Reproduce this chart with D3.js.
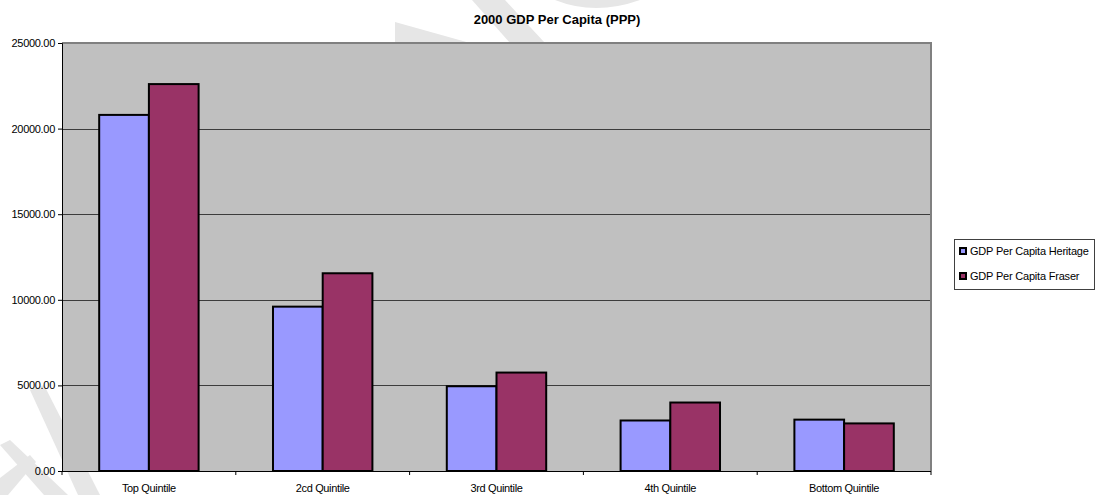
<!DOCTYPE html>
<html>
<head>
<meta charset="utf-8">
<script src="https://cdn.jsdelivr.net/npm/d3@7/dist/d3.min.js"></script>
<style>
  html, body { margin: 0; padding: 0; background: #ffffff; }
  svg { display: block; font-family: "Liberation Sans", Arial, sans-serif; }
</style>
</head>
<body>
<svg id="chart" width="1096" height="495"></svg>
<script>
// Quintile groups on the x axis
const categories = ["Top Quintile", "2cd Quintile", "3rd Quintile", "4th Quintile", "Bottom Quintile"];
// Series names and their values (GDP per capita, PPP, year 2000)
const seriesNames = ["GDP Per Capita Heritage", "GDP Per Capita Fraser"];
const heritageValues = [20800, 9600, 4950, 2950, 3000];
const fraserValues = [22600, 11550, 5750, 4000, 2780];
// Value axis ticks
const yTicks = [0, 5000, 10000, 15000, 20000, 25000];
const title = "2000 GDP Per Capita (PPP)";

const seriesValues = [heritageValues, fraserValues];
const seriesColors = ["#9999ff", "#993366"];

const svg = d3.select("#chart");
const plot = { left: 62, right: 931, top: 43, bottom: 471 };

// faint background marks in the margins
const haze = svg.append("g").attr("fill", "#e6e6e6");
haze.append("path").attr("d", "M472,0 L505,0 L545,43 L510,43 Z");
haze.append("path").attr("d", "M395,22 L470,43 L395,43 Z");
haze.append("path").attr("d", "M555,0 Q595,16 640,0 Z");
haze.append("path").attr("d", "M30,390 L44,385 L100,495 L78,495 Z");
haze.append("path").attr("d", "M0,445 L10,440 L68,495 L44,495 Z");
haze.append("path").attr("d", "M0,478 L30,455 L36,462 L8,495 L0,495 Z");

const x = d3.scaleBand()
  .domain(categories)
  .range([plot.left, plot.right])
  .paddingInner(0.428)
  .paddingOuter(0.214);

const xs = d3.scaleBand()
  .domain(d3.range(seriesNames.length))
  .range([0, x.bandwidth()]);

const y = d3.scaleLinear()
  .domain([0, 25000])
  .range([plot.bottom, plot.top]);

// plot background
svg.append("rect")
  .attr("x", plot.left).attr("y", plot.top)
  .attr("width", plot.right - plot.left).attr("height", plot.bottom - plot.top)
  .attr("fill", "#c0c0c0");

// gridlines
svg.append("g")
  .selectAll("line")
  .data(yTicks.filter(d => d > 0 && d < 25000))
  .join("line")
  .attr("x1", plot.left).attr("x2", plot.right)
  .attr("y1", d => Math.round(y(d)) + 0.5).attr("y2", d => Math.round(y(d)) + 0.5)
  .attr("stroke", "#3c3c3c").attr("stroke-width", 1);

// top and right frame
svg.append("path")
  .attr("d", `M${plot.left},${plot.top} H${plot.right} V${plot.bottom}`)
  .attr("fill", "none").attr("stroke", "#808080").attr("stroke-width", 2);

// bars
const groups = svg.append("g")
  .selectAll("g")
  .data(categories)
  .join("g")
  .attr("transform", d => `translate(${x(d)},0)`);

groups.selectAll("rect")
  .data((d, i) => seriesValues.map((vals, s) => ({ s, v: vals[i] })))
  .join("rect")
  .attr("x", d => xs(d.s))
  .attr("y", d => y(d.v))
  .attr("width", xs.bandwidth())
  .attr("height", d => y(0) - y(d.v))
  .attr("fill", d => seriesColors[d.s])
  .attr("stroke", "#000")
  .attr("stroke-width", 2);

// y axis
const yAxis = d3.axisLeft(y)
  .tickValues(yTicks)
  .tickFormat(d3.format(".2f"))
  .tickSize(4)
  .tickPadding(3);
const gy = svg.append("g")
  .attr("transform", `translate(${plot.left},0)`)
  .call(yAxis);
gy.select(".domain").attr("stroke", "#000");
gy.selectAll(".tick line").attr("stroke", "#000");
gy.selectAll("text")
  .attr("font-size", 11)
  .attr("letter-spacing", "-0.3")
  .attr("fill", "#000")
  .attr("font-family", "'Liberation Sans', Arial, sans-serif");

// x axis: ticks at category boundaries
const boundaries = d3.range(categories.length + 1).map(i => plot.left + i * x.step());
const gx = svg.append("g");
gx.append("line")
  .attr("x1", plot.left).attr("x2", plot.right)
  .attr("y1", plot.bottom + 0.5).attr("y2", plot.bottom + 0.5)
  .attr("stroke", "#000");
gx.selectAll("line.tk")
  .data(boundaries)
  .join("line")
  .attr("class", "tk")
  .attr("x1", d => d).attr("x2", d => d)
  .attr("y1", plot.bottom).attr("y2", plot.bottom + 4)
  .attr("stroke", "#000");
gx.selectAll("text")
  .data(categories)
  .join("text")
  .attr("x", d => x(d) + x.bandwidth() / 2)
  .attr("y", 492)
  .attr("text-anchor", "middle")
  .attr("font-size", 11)
  .attr("letter-spacing", "-0.35")
  .attr("fill", "#000")
  .text(d => d);

// title
svg.append("text")
  .attr("x", 557).attr("y", 24)
  .attr("text-anchor", "middle")
  .attr("font-size", 13)
  .attr("font-weight", "bold")
  .attr("fill", "#000")
  .text(title);

// legend
const legend = svg.append("g");
legend.append("rect")
  .attr("x", 954.5).attr("y", 239.5)
  .attr("width", 140).attr("height", 50)
  .attr("fill", "#fff").attr("stroke", "#404040").attr("stroke-width", 1);
const items = legend.selectAll("g.item")
  .data(seriesNames)
  .join("g")
  .attr("class", "item")
  .attr("transform", (d, i) => `translate(0,${251 + i * 25})`);
items.append("rect")
  .attr("x", 960).attr("y", -3)
  .attr("width", 6).attr("height", 6)
  .attr("fill", (d, i) => seriesColors[i])
  .attr("stroke", "#000").attr("stroke-width", 2);
items.append("text")
  .attr("x", 970).attr("y", 4)
  .attr("font-size", 11)
  .attr("letter-spacing", "-0.2")
  .attr("fill", "#000")
  .text(d => d);
</script>
</body>
</html>
